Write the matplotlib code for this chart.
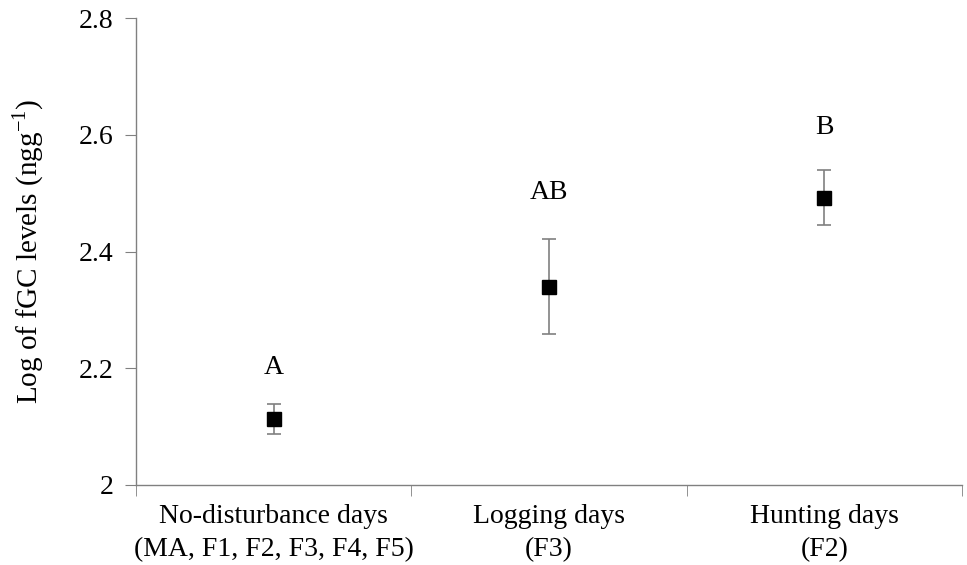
import matplotlib.pyplot as plt
import numpy as np

# data
categories = ['No-disturbance days\n(MA, F1, F2, F3, F4, F5)', 'Logging days\n(F3)', 'Hunting days\n(F2)']
means = [2.113, 2.340, 2.492]
errors = [0.025, 0.081, 0.047]
letters = ['A', 'AB', 'B']
letter_y = [2.202, 2.502, 2.613]

plt.rcParams['font.family'] = ['Liberation Serif', 'DejaVu Serif']
plt.rcParams['mathtext.fontset'] = 'custom'
plt.rcParams['mathtext.rm'] = 'Liberation Serif'

fig = plt.figure(figsize=(9.67, 5.65), dpi=100)
ax = fig.add_axes([0.1406, 0.1416, 0.8542, 0.8264])

x = np.arange(1, len(categories) + 1)
ax.errorbar(x, means, yerr=errors, fmt='none', ecolor='#808080', elinewidth=1.2,
            capsize=5, capthick=1.2, zorder=2)
ax.plot(x, means, 's', color='black', markersize=10, zorder=3)

for xi, yi, t in zip(x, letter_y, letters):
    ax.text(xi, yi, t, ha='center', va='center', fontsize=20)

ax.set_xlim(0.5, 3.5)
ax.set_ylim(2.0, 2.8)
ax.set_yticks([2.0, 2.2, 2.4, 2.6, 2.8])
ax.set_yticklabels(['2', '2.2', '2.4', '2.6', '2.8'])
ax.set_xticks(x)
ax.set_xticklabels(categories, linespacing=1.4)
ax.set_xticks([0.5, 1.5, 2.5, 3.5], minor=True)
ax.tick_params(axis='x', which='major', length=0, pad=14, labelsize=20)
ax.tick_params(axis='x', which='minor', length=8, color='#808080', direction='out')
ax.tick_params(axis='y', length=8, color='#808080', direction='out', pad=8, labelsize=20)

for s in ['top', 'right']:
    ax.spines[s].set_visible(False)
for s in ['left', 'bottom']:
    ax.spines[s].set_color('#808080')
    ax.spines[s].set_linewidth(1.0)

ax.set_ylabel('Log of fGC levels (ngg$^{\\mathregular{-1}}$)', fontsize=21, labelpad=24)

fig.savefig('out.png', dpi=100)
